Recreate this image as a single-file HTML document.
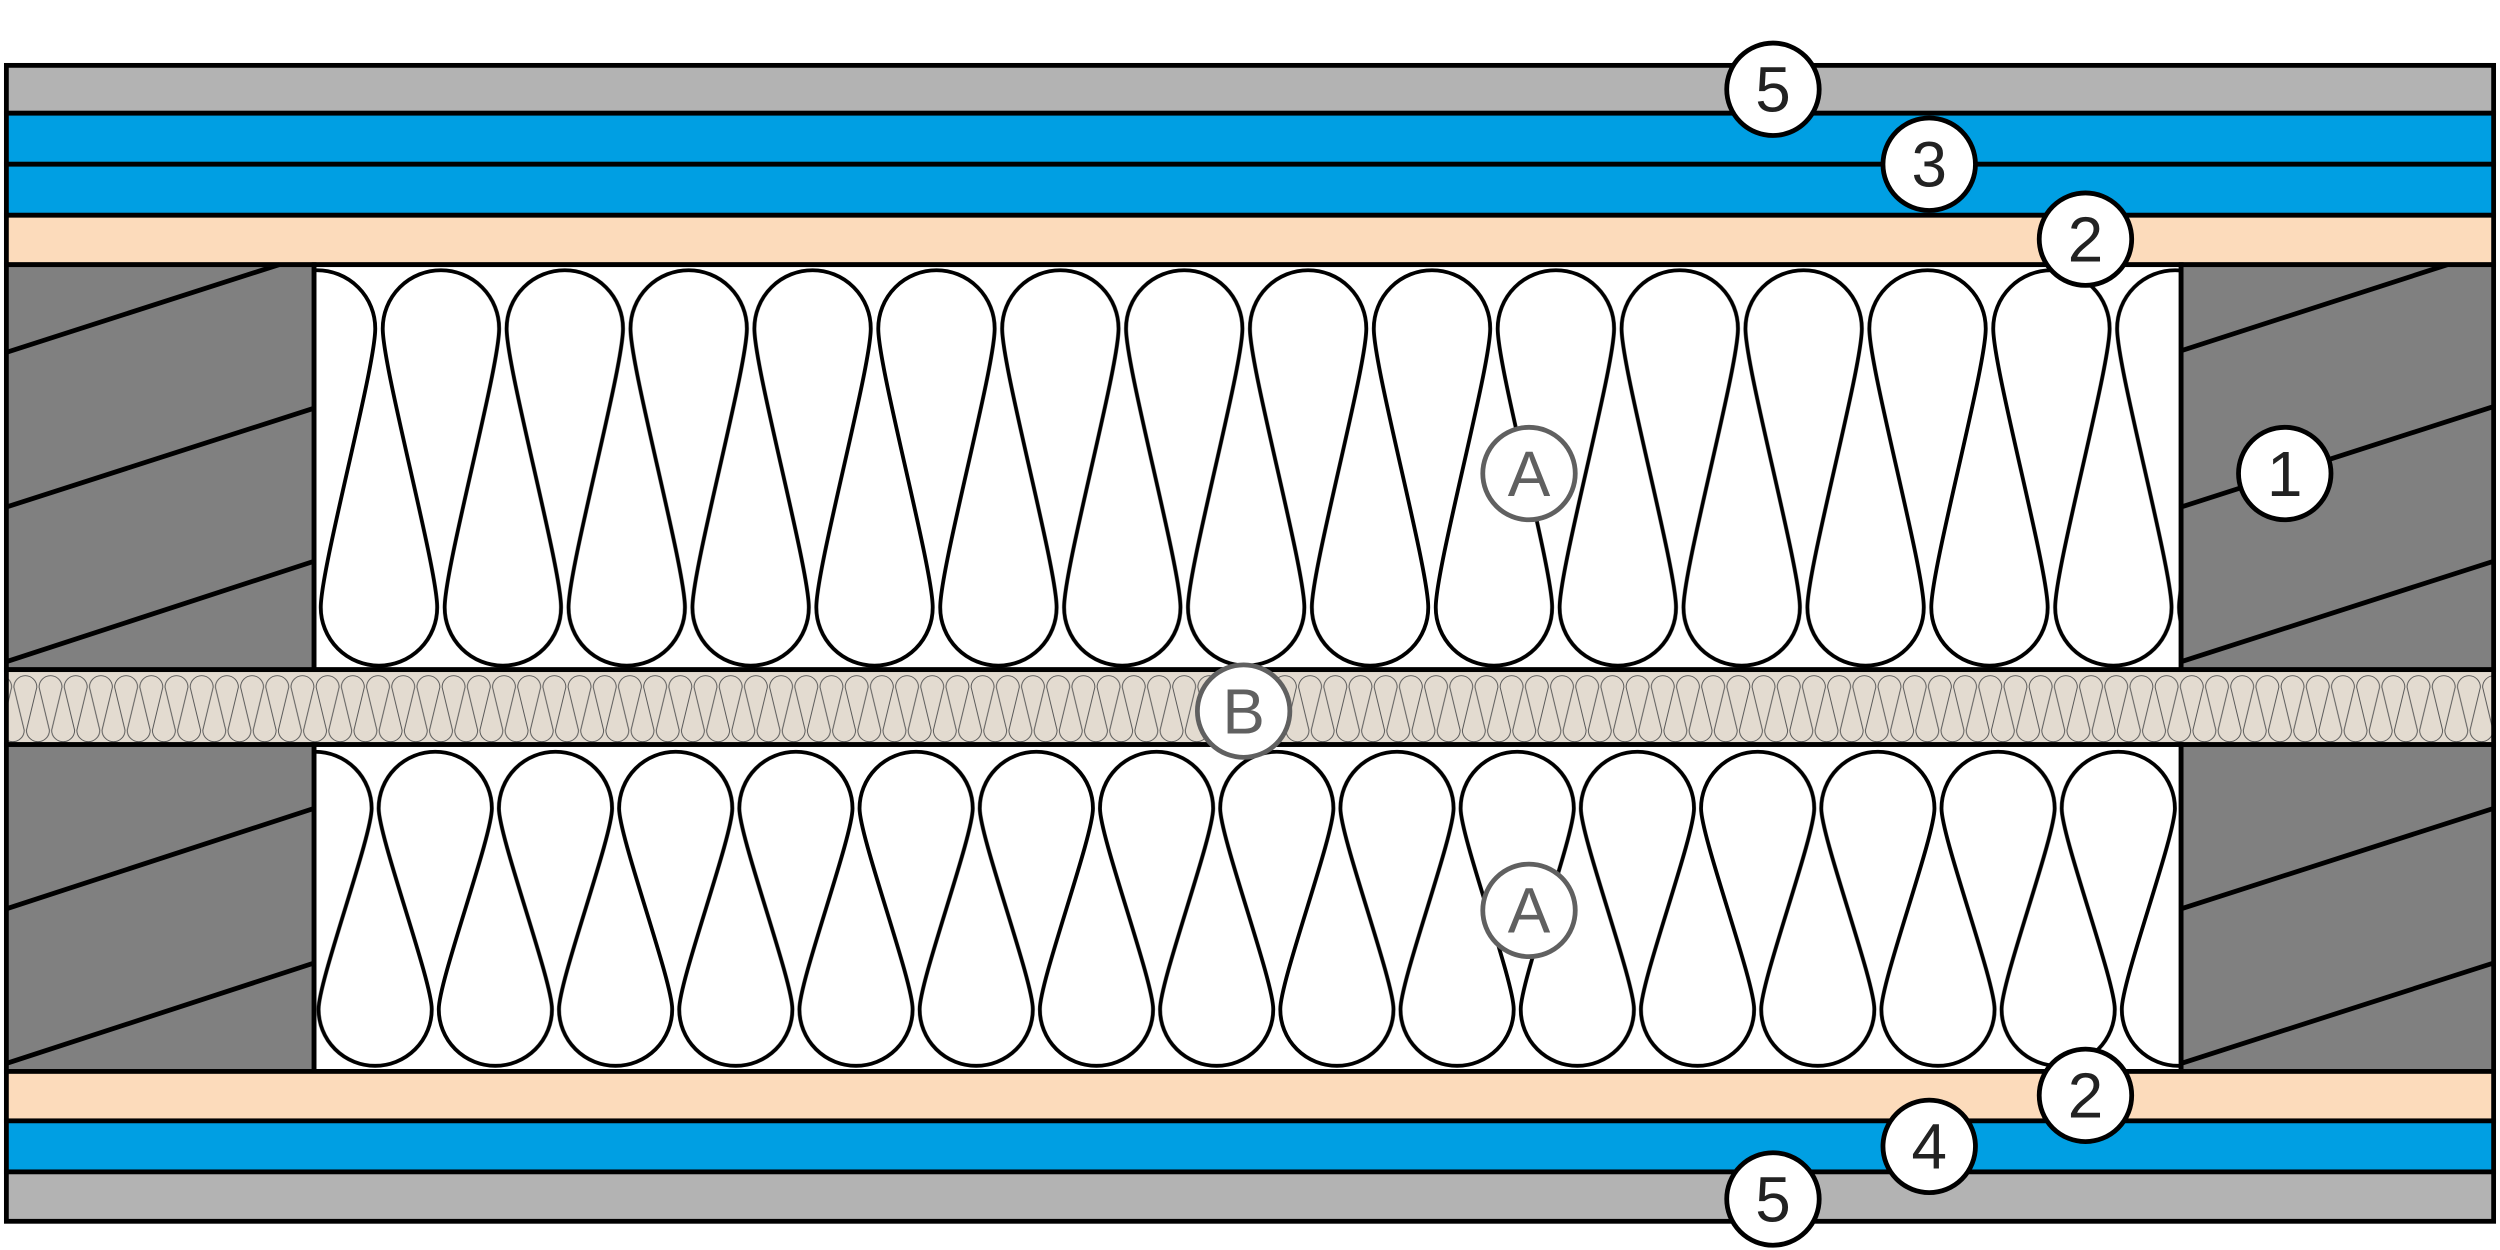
<!DOCTYPE html>
<html><head><meta charset="utf-8"><style>html,body{margin:0;padding:0;background:#fff}svg{display:block}</style></head>
<body>
<svg width="2500" height="1250" viewBox="0 0 1568 784" xmlns="http://www.w3.org/2000/svg">
<defs>
<pattern id="up" patternUnits="userSpaceOnUse" x="237.7" y="0" width="77.7" height="784">
  <rect x="0" y="0" width="77.7" height="784" fill="#fff"/>
  <path fill="none" stroke="#000" stroke-width="2.4" d="
    M-114.2,381 A36.5,36.5 0 0 0 -41.2,381 C-41.2,356 -75.35,231 -75.35,206 A36.5,36.5 0 0 1 -2.35,206
    C-2.35,231 -36.5,356 -36.5,381 A36.5,36.5 0 0 0 36.5,381 C36.5,356 2.35,231 2.35,206
    A36.5,36.5 0 0 1 75.35,206 C75.35,231 41.2,356 41.2,381 A36.5,36.5 0 0 0 114.2,381
    C114.2,356 80.05,231 80.05,206 A36.5,36.5 0 0 1 153.05,206 C153.05,231 118.9,356 118.9,381 A36.5,36.5 0 0 0 191.9,381"/>
</pattern>
<pattern id="lo" patternUnits="userSpaceOnUse" x="235.3" y="0" width="75.4" height="784">
  <rect x="0" y="0" width="75.4" height="784" fill="#fff"/>
  <path fill="none" stroke="#000" stroke-width="2.4" d="
    M-110.9,633 A35.5,35.5 0 0 0 -39.9,633 C-39.9,615 -73.2,525 -73.2,507 A35.5,35.5 0 0 1 -2.2,507
    C-2.2,525 -35.5,615 -35.5,633 A35.5,35.5 0 0 0 35.5,633 C35.5,615 2.2,525 2.2,507
    A35.5,35.5 0 0 1 73.2,507 C73.2,525 39.9,615 39.9,633 A35.5,35.5 0 0 0 110.9,633
    C110.9,615 77.6,525 77.6,507 A35.5,35.5 0 0 1 148.6,507 C148.6,525 115.3,615 115.3,633 A35.5,35.5 0 0 0 186.3,633"/>
</pattern>
<pattern id="bb" patternUnits="userSpaceOnUse" x="8" y="0" width="15.8" height="784">
  <rect x="0" y="0" width="15.8" height="784" fill="#e3dbd0"/>
  <path fill="none" stroke="#555" stroke-width="0.6" d="
    M-22.9,458 A7.2,7.2 0 0 0 -8.5,458 L-15.1,431 A7.2,7.2 0 0 1 -0.7,431
    L-7.2,458 A7.2,7.2 0 0 0 7.2,458 L0.7,431 A7.2,7.2 0 0 1 15.1,431
    L8.6,458 A7.2,7.2 0 0 0 23,458 L16.5,431 A7.2,7.2 0 0 1 30.9,431 L24.4,458 A7.2,7.2 0 0 0 38.8,458"/>
</pattern>
</defs>
<g stroke="#000" stroke-width="3">
  <rect x="4" y="41" width="1560" height="30" fill="#b3b3b3"/>
  <rect x="4" y="71" width="1560" height="32" fill="#009fe3"/>
  <rect x="4" y="103" width="1560" height="32" fill="#009fe3"/>
  <rect x="4" y="135" width="1560" height="31" fill="#fcdbbb"/>
  <rect x="4" y="166" width="193" height="254" fill="#808080"/>
  <rect x="197" y="166" width="1171" height="254" fill="url(#up)"/>
  <rect x="1368" y="166" width="196" height="254" fill="#808080"/>
  <rect x="4" y="420" width="1560" height="47" fill="url(#bb)"/>
  <rect x="4" y="467" width="193" height="205" fill="#808080"/>
  <rect x="197" y="467" width="1171" height="205" fill="url(#lo)"/>
  <rect x="1368" y="467" width="196" height="205" fill="#808080"/>
  <rect x="4" y="672" width="1560" height="31" fill="#fcdbbb"/>
  <rect x="4" y="703" width="1560" height="32" fill="#009fe3"/>
  <rect x="4" y="735" width="1560" height="31" fill="#b3b3b3"/>
  <line x1="4" y1="221" x2="175" y2="166"/>
  <line x1="4" y1="318" x2="197" y2="256"/>
  <line x1="4" y1="415" x2="197" y2="352"/>
  <line x1="1368" y1="220" x2="1535" y2="166"/>
  <line x1="1368" y1="318" x2="1564" y2="255"/>
  <line x1="1368" y1="415" x2="1564" y2="352"/>
  <line x1="4" y1="570" x2="197" y2="507"/>
  <line x1="4" y1="667" x2="197" y2="604"/>
  <line x1="1368" y1="570" x2="1564" y2="507"/>
  <line x1="1368" y1="667" x2="1564" y2="604"/>
</g>
<g fill="#fff" stroke="#000" stroke-width="3">
  <circle cx="1112" cy="56" r="29"/>
  <circle cx="1210" cy="103" r="29"/>
  <circle cx="1308" cy="150" r="29"/>
  <circle cx="1433" cy="297" r="29"/>
  <circle cx="1308" cy="687" r="29"/>
  <circle cx="1210" cy="719" r="29"/>
  <circle cx="1112" cy="752" r="29"/>
</g>
<g fill="#fff" stroke="#606060" stroke-width="3">
  <circle cx="959" cy="297" r="29"/>
  <circle cx="780" cy="446" r="29"/>
  <circle cx="959" cy="571" r="29"/>
</g>
<g font-family="Liberation Sans, sans-serif" font-size="40" text-anchor="middle" fill="#222">
  <text x="1112" y="70">5</text>
  <text x="1210" y="117">3</text>
  <text x="1308" y="164">2</text>
  <text x="1433" y="311">1</text>
  <text x="1308" y="701">2</text>
  <text x="1210" y="733">4</text>
  <text x="1112" y="766">5</text>
</g>
<g font-family="Liberation Sans, sans-serif" font-size="40" text-anchor="middle" fill="#606060">
  <text x="959" y="311">A</text>
  <text x="780" y="460">B</text>
  <text x="959" y="585">A</text>
</g>
</svg>
</body></html>
